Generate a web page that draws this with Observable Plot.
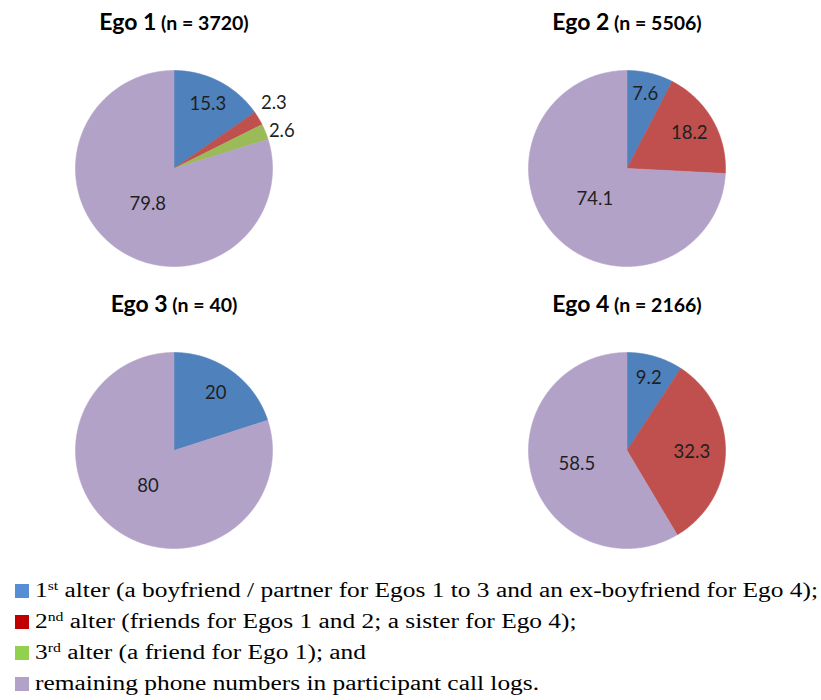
<!DOCTYPE html>
<html>
<head>
<meta charset="utf-8">
<script src="https://cdn.jsdelivr.net/npm/d3@7"></script>
<script src="https://cdn.jsdelivr.net/npm/@observablehq/plot@0.6"></script>
<style>
  html, body { margin: 0; padding: 0; background: #fff; }
  #chart svg { display: block; }
  #legend { font-size: 20px; line-height: 31px; padding: 3px 0 0 15px; color: #000; white-space: nowrap; }
  #legend .row { display: flex; align-items: center; height: 31px; }
  #legend .sw { display: inline-block; width: 14px; height: 14px; margin-right: 6px; flex: none; }
  #legend .lt { display: inline-block; transform-origin: 0 50%; }
  #legend sup { font-size: 0.62em; line-height: 0; vertical-align: 0.55em; }
</style>
</head>
<body>
<div id="chart"></div>
<div id="legend"></div>
<script>
// ---- data ----
const egos = ["Ego 1", "Ego 2", "Ego 3", "Ego 4"];
const ns = [3720, 5506, 40, 2166];
const series = ["1st alter", "2nd alter", "3rd alter", "remaining"];
const alter1 = [15.3, 7.6, 20, 9.2];
const alter2 = [2.3, 18.2, 0, 32.3];
const alter3 = [2.6, 0, 0, 0];
const remaining = [79.8, 74.1, 80, 58.5];
const pieColors = ["#4F81BD", "#C0504D", "#9BBB59", "#B3A2C7"];
const legendColors = ["#558ED5", "#C00000", "#92D050", "#B3A2C7"];
const legendHtml = [
  "1<sup>st</sup> alter (a boyfriend / partner for Egos 1 to 3 and an ex-boyfriend for Ego 4);",
  "2<sup>nd</sup> alter (friends for Egos 1 and 2; a sister for Ego 4);",
  "3<sup>rd</sup> alter (a friend for Ego 1); and",
  "remaining phone numbers in participant call logs."
];

// ---- geometry from d3.pie ----
const sliceRows = [];
const labelRows = [];
const titleRows = [];
egos.forEach((ego, i) => {
  const col = i % 2, row = Math.floor(i / 2);
  titleRows.push({col, row, title: `${ego} (n = ${ns[i]})`});
  const vals = [alter1[i], alter2[i], alter3[i], remaining[i]];
  const arcs = d3.pie().sort(null)(vals);
  const outside = [];
  arcs.forEach((a, j) => {
    if (a.value === 0) return;
    const id = `${i}-${j}`;
    const steps = Math.max(2, Math.ceil((a.endAngle - a.startAngle) / (Math.PI / 360)));
    sliceRows.push({id, col, row, s: series[j], x: 0, y: 0});
    for (let k = 0; k <= steps; k++) {
      const t = a.startAngle + (a.endAngle - a.startAngle) * k / steps;
      sliceRows.push({id, col, row, s: series[j], x: Math.sin(t), y: Math.cos(t)});
    }
    sliceRows.push({id, col, row, s: series[j], x: 0, y: 0});
    const mid = (a.startAngle + a.endAngle) / 2;
    const r = a.value < 5 ? 1.18 : Math.max(0.45, 0.82 - 0.005 * a.value);
    const lab = {col, row, x: r * Math.sin(mid), y: r * Math.cos(mid), text: String(a.value)};
    labelRows.push(lab);
    if (a.value < 5) outside.push(lab);
  });
  // keep outside labels apart vertically
  const minGap = 0.28;
  for (let it = 0; it < 10; it++) {
    outside.sort((p, q) => q.y - p.y);
    for (let k = 1; k < outside.length; k++) {
      const gap = outside[k - 1].y - outside[k].y;
      if (gap < minGap) {
        const push = (minGap - gap) / 2;
        outside[k - 1].y += push;
        outside[k].y -= push;
      }
    }
  }
});

const chart = Plot.plot({
  width: 821,
  height: 572,
  marginLeft: 75,
  marginRight: 95.5,
  marginTop: 69,
  marginBottom: 23.3,
  style: {fontFamily: "Lato, 'Open Sans', sans-serif", background: "#fff"},
  fx: {axis: null, paddingInner: 0.5654, paddingOuter: 0},
  fy: {axis: null, paddingInner: 0.3032, paddingOuter: 0},
  x: {domain: [-1, 1], axis: null},
  y: {domain: [-1, 1], axis: null},
  color: {domain: series, range: pieColors},
  marks: [
    Plot.line(sliceRows, {x: "x", y: "y", z: "id", fill: "s", stroke: "s", strokeWidth: 0.6, fx: "col", fy: "row", curve: "linear-closed"}),
    Plot.text(labelRows, {x: "x", y: "y", text: "text", fx: "col", fy: "row", fontSize: 18.5, fill: "#1f1f1f"}),
    Plot.text(titleRows, {text: "title", fx: "col", fy: "row", frameAnchor: "top", lineAnchor: "bottom", dy: -41, fontWeight: "bold", fontSize: 23, fill: "#000"})
  ]
});
document.getElementById("chart").appendChild(chart);

// mixed-size titles: "Ego N" larger, "(n = ...)" smaller
d3.select(chart).selectAll("text").each(function () {
  const t = this.textContent;
  if (t.startsWith("Ego ") && t.includes(" (")) {
    const k = t.indexOf(" (");
    const el = d3.select(this);
    el.text(null);
    el.append("tspan").attr("font-size", 23).text(t.slice(0, k));
    el.append("tspan").attr("font-size", 19.5).text(t.slice(k));
  }
});

// pick the first installed Times-like serif font
function hasFont(name) {
  const c = document.createElement("canvas").getContext("2d");
  const probe = "mmmmmmmmmmlliWW0123 abcdefghij";
  return ["monospace", "sans-serif", "serif"].some(base => {
    c.font = `40px ${base}`;
    const w0 = c.measureText(probe).width;
    c.font = `40px "${name}", ${base}`;
    return Math.abs(c.measureText(probe).width - w0) > 0.5;
  });
}
const serifCandidates = ["Liberation Serif", "Times New Roman", "Tinos", "Nimbus Roman", "Nimbus Roman No9 L", "FreeSerif", "Noto Serif", "DejaVu Serif Condensed", "DejaVu Serif"];
const serifFont = serifCandidates.find(hasFont) || "serif";

// legend
const leg = d3.select("#legend").style("font-family", `"${serifFont}", serif`);
if (serifFont === "DejaVu Serif") leg.style("font-stretch", "condensed");
legendHtml.forEach((h, j) => {
  const r = leg.append("div").attr("class", "row");
  r.append("span").attr("class", "sw").style("background", legendColors[j]);
  r.append("span").attr("class", "lt").html(h);
});
// fit the first (longest) legend line to the reference width
const first = leg.select(".lt").node();
const w = first.getBoundingClientRect().width;
const target = 783;
if (w > 0) {
  const sx = target / w;
  leg.selectAll(".lt").style("transform", `scaleX(${sx})`);
}
</script>
</body>
</html>
